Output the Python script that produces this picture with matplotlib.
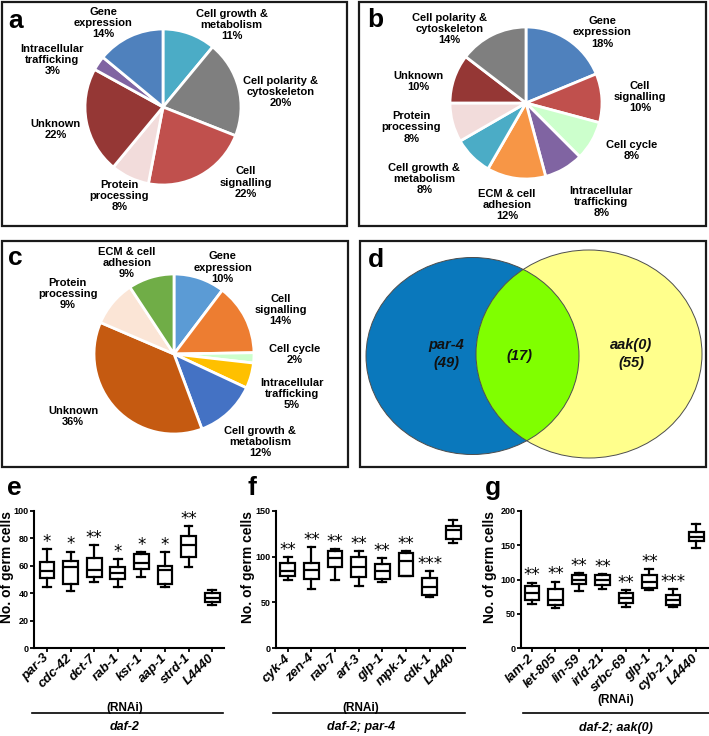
import matplotlib
matplotlib.use('Agg')
import matplotlib.pyplot as plt
from matplotlib.patches import Rectangle, Ellipse
from matplotlib.lines import Line2D

plt.rcParams['font.family'] = ['Liberation Sans', 'DejaVu Sans']
plt.rcParams['font.weight'] = 'bold'

W, H = 709, 736

# ---- pie data (slices clockwise from 12 o'clock) ----
cats_a = ['Cell growth &\nmetabolism', 'Cell polarity &\ncytoskeleton', 'Cell\nsignalling',
          'Protein\nprocessing', 'Unknown', 'Intracellular\ntrafficking', 'Gene\nexpression']
vals_a = [11, 20, 22, 8, 22, 3, 14]
cols_a = ['#4BACC6', '#7F7F7F', '#C0504D', '#F2DCDB', '#953735', '#8064A2', '#4F81BD']

cats_b = ['Gene\nexpression', 'Cell\nsignalling', 'Cell cycle', 'Intracellular\ntrafficking',
          'ECM & cell\nadhesion', 'Cell growth &\nmetabolism', 'Protein\nprocessing', 'Unknown',
          'Cell polarity &\ncytoskeleton']
vals_b = [18, 10, 8, 8, 12, 8, 8, 10, 14]
cols_b = ['#4F81BD', '#C0504D', '#CCFFCC', '#8064A2', '#F79646', '#4BACC6', '#F2DCDB', '#953735', '#7F7F7F']

cats_c = ['Gene\nexpression', 'Cell\nsignalling', 'Cell cycle', 'Intracellular\ntrafficking',
          'Cell growth &\nmetabolism', 'Unknown', 'Protein\nprocessing', 'ECM & cell\nadhesion']
vals_c = [10, 14, 2, 5, 12, 36, 9, 9]
cols_c = ['#5B9BD5', '#ED7D31', '#CCFFCC', '#FFC000', '#4472C4', '#C55A11', '#FBE5D6', '#70AD47']

# ---- venn data ----
venn_names = ['par-4', 'aak(0)']
venn_counts = [49, 17, 55]

# ---- box plot data: (whislo, q1, med, q3, whishi) ----
genes_e = ['par-3', 'cdc-42', 'dct-7', 'rab-1', 'ksr-1', 'aap-1', 'strd-1', 'L4440']
stats_e = [(44.7, 51, 56.5, 63, 72), (41.7, 46.6, 59.4, 63.5, 70.4), (47.9, 51.5, 57, 65.5, 75.3),
           (44.7, 50.3, 54.5, 59, 65), (51.5, 57.4, 62.3, 68.7, 70), (44.7, 47, 57, 60, 70),
           (59, 66.5, 75, 82, 89.3), (31.2, 33.6, 36.8, 39.8, 42.2)]
stars_e = ['*', '*', '**', '*', '*', '*', '**', '']

genes_f = ['cyk-4', 'zen-4', 'rab-7', 'arf-3', 'glp-1', 'mpk-1', 'cdk-1', 'L4440']
stats_f = [(74, 78.3, 84, 93, 100), (64.8, 76, 85.6, 93, 110.5), (75, 88.5, 98.8, 105.7, 108),
           (68, 77.2, 88.5, 100, 106), (72.8, 75.7, 83.8, 92.2, 98.4), (78.3, 79, 94.8, 104, 106),
           (55.6, 58.5, 67.3, 76.8, 84), (115, 119.6, 128.8, 134, 140.5)]
stars_f = ['**', '**', '**', '**', '**', '**', '***', '']

genes_g = ['lam-2', 'let-805', 'lin-59', 'irld-21', 'srbc-69', 'glp-1', 'cyb-2.1', 'L4440']
stats_g = [(64.6, 69.4, 80, 89.8, 95.6), (58.3, 63, 70.4, 86.4, 97), (83, 94, 100, 107, 110),
           (86, 92, 99, 106, 108), (59.7, 65.5, 72.8, 80, 85), (85, 87, 96, 106, 115),
           (59.7, 63, 70.4, 76.7, 86), (145.6, 156.3, 162.6, 170, 180.6)]
stars_g = ['**', '**', '**', '**', '**', '**', '***', '']


def px_axes(fig, x0, y0, x1, y1):
    return fig.add_axes([x0 / W, 1 - y1 / H, (x1 - x0) / W, (y1 - y0) / H])


def frame(ax):
    ax.add_patch(Rectangle((0, 0), 1, 1, transform=ax.transAxes, fill=False,
                           edgecolor='#1a1a1a', linewidth=1.6, clip_on=False))


def pie_panel(fig, box, letter, vals, cats, cols, center, radius, label_xy, letter_xy):
    ax = px_axes(fig, *box)
    w = box[2] - box[0]
    h = box[3] - box[1]
    ax.pie(vals, colors=cols, startangle=90, counterclock=False, center=center, radius=radius,
           wedgeprops=dict(edgecolor='white', linewidth=2))
    ax.set_xlim(0, w)
    ax.set_ylim(0, h)
    ax.set_aspect('auto')
    for c, v, (lx, ly) in zip(cats, vals, label_xy):
        ax.text(center[0] + lx * radius, center[1] + ly * radius, f'{c}\n{v}%',
                ha='center', va='center', fontsize=8, fontweight='bold', linespacing=1.15)
    ax.text(letter_xy[0], h - letter_xy[1], letter, fontsize=19, fontweight='bold', va='baseline')
    frame(ax)
    return ax


def box_panel(fig, x0, x1, genes, stats, stars, ymax, yticks, xlim):
    ax = px_axes(fig, x0, 511, x1, 648)
    bst = [dict(whislo=s[0], q1=s[1], med=s[2], q3=s[3], whishi=s[4], label=g)
           for g, s in zip(genes, stats)]
    pos = list(range(1, len(genes) + 1))
    ax.bxp(bst, positions=pos, widths=0.62, capwidths=0.33, showfliers=False, patch_artist=True,
           boxprops=dict(facecolor='white', edgecolor='black', linewidth=1.6),
           medianprops=dict(color='black', linewidth=1.6),
           whiskerprops=dict(color='black', linewidth=1.6),
           capprops=dict(color='black', linewidth=1.6))
    for p, s, st in zip(pos, stats, stars):
        if st:
            ax.annotate(st, xy=(p, s[4]), xytext=(0, 1.5), textcoords='offset points',
                        ha='center', va='baseline', fontsize=12, fontweight='normal',
                        family='DejaVu Sans')
    ax.set_xlim(*xlim)
    ax.set_ylim(0, ymax)
    ax.set_yticks(yticks)
    ax.set_yticklabels([str(t) for t in yticks], fontsize=6.5, fontweight='bold')
    ax.set_xticks(pos)
    ax.set_xticklabels(genes, rotation=45, ha='right', va='center', rotation_mode='anchor',
                       fontsize=9.5, fontweight='bold', fontstyle='italic')
    for sp in ['top', 'right']:
        ax.spines[sp].set_visible(False)
    for sp in ['left', 'bottom']:
        ax.spines[sp].set_linewidth(1.5)
    ax.tick_params(direction='out', length=3, width=1.3, pad=1)
    ax.tick_params(axis='x', pad=3)
    ax.set_ylabel('No. of germ cells', fontsize=10, fontweight='bold')
    return ax


fig = plt.figure(figsize=(W / 100, H / 100), dpi=100)

# a
pie_panel(fig, (2, 2, 347, 226), 'a', vals_a, cats_a, cols_a, (161, 119), 78,
          [(0.88, 1.05), (1.51, 0.19), (1.06, -0.97), (-0.56, -1.14), (-1.38, -0.29),
           (-1.42, 0.6), (-0.77, 1.08)], (6, 26))
# b
pie_panel(fig, (359, 2, 706, 226), 'b', vals_b, cats_b, cols_b, (167, 123), 76,
          [(1.0, 0.93), (1.5, 0.08), (1.39, -0.62), (0.99, -1.3), (-0.25, -1.34),
           (-1.34, -1.0), (-1.51, -0.32), (-1.42, 0.28), (-1.01, 0.97)], (8, 25))
# c
pie_panel(fig, (2, 241, 348, 467), 'c', vals_c, cats_c, cols_c, (172, 113), 80,
          [(0.61, 1.08), (1.33, 0.55), (1.51, -0.01), (1.47, -0.5), (1.08, -1.1),
           (-1.26, -0.78), (-1.33, 0.75), (-0.59, 1.14)], (6, 24))

# d - venn
axd = px_axes(fig, 360, 241, 706, 467)
axd.set_xlim(0, 346)
axd.set_ylim(0, 226)
axd.axis('off')
blue = Ellipse((112.5, 111), 213, 197, facecolor='#0A78BC', edgecolor='none')
yellow = Ellipse((229, 113), 226, 208, facecolor='#FFFF8C', edgecolor='none')
axd.add_patch(blue)
axd.add_patch(yellow)
green = Ellipse((112.5, 111), 213, 197, facecolor='#80FF00', edgecolor='none')
axd.add_patch(green)
green.set_clip_path(yellow)
for e in [Ellipse((112.5, 111), 213, 197), Ellipse((229, 113), 226, 208)]:
    e.set_facecolor('none')
    e.set_edgecolor('#4d4d4d')
    e.set_linewidth(0.7)
    axd.add_patch(e)
vt = dict(ha='center', va='center', fontsize=10.5, fontweight='bold', fontstyle='italic',
          color='#111111', linespacing=1.3)
axd.text(86, 113, f'{venn_names[0]}\n({venn_counts[0]})', **vt)
axd.text(159, 111, f'({venn_counts[1]})', **vt)
axd.text(271, 113, f'{venn_names[1]}\n({venn_counts[2]})', **vt)
axd.text(8, 226 - 26, 'd', fontsize=19, fontweight='bold', va='baseline')
frame(axd)

# e, f, g
ae = box_panel(fig, 34, 224, genes_e, stats_e, stars_e, 100, [0, 20, 40, 60, 80, 100], (0.45, 8.5))
af = box_panel(fig, 276, 465, genes_f, stats_f, stars_f, 150, [0, 50, 100, 150], (0.5, 8.5))
ag = box_panel(fig, 521, 708, genes_g, stats_g, stars_g, 200, [0, 50, 100, 150, 200], (0.53, 8.5))
ae.yaxis.set_label_coords(-0.105, 0.59)
af.yaxis.set_label_coords(-0.11, 0.59)
ag.yaxis.set_label_coords(-0.13, 0.59)

for x, lab in [(7, 'e'), (247, 'f'), (485, 'g')]:
    fig.text(x / W, 1 - 495 / H, lab, fontsize=19, fontweight='bold', va='baseline')

# strain annotations
for xa, xb, xr, yr, strain, ys in [(32, 223, 125, 708, 'daf-2', 727),
                                   (273, 465, 361, 708, 'daf-2; par-4', 727),
                                   (523, 709, 616, 700, 'daf-2; aak(0)', 728)]:
    fig.text(xr / W, 1 - yr / H, '(RNAi)', ha='center', va='center', fontsize=8.5, fontweight='bold')
    fig.add_artist(Line2D([xa / W, xb / W], [1 - 713 / H, 1 - 713 / H], color='black', linewidth=1.2))
    fig.text(xr / W, 1 - ys / H, strain, ha='center', va='center', fontsize=9,
             fontweight='bold', fontstyle='italic')

fig.savefig('out.png', dpi=100)
